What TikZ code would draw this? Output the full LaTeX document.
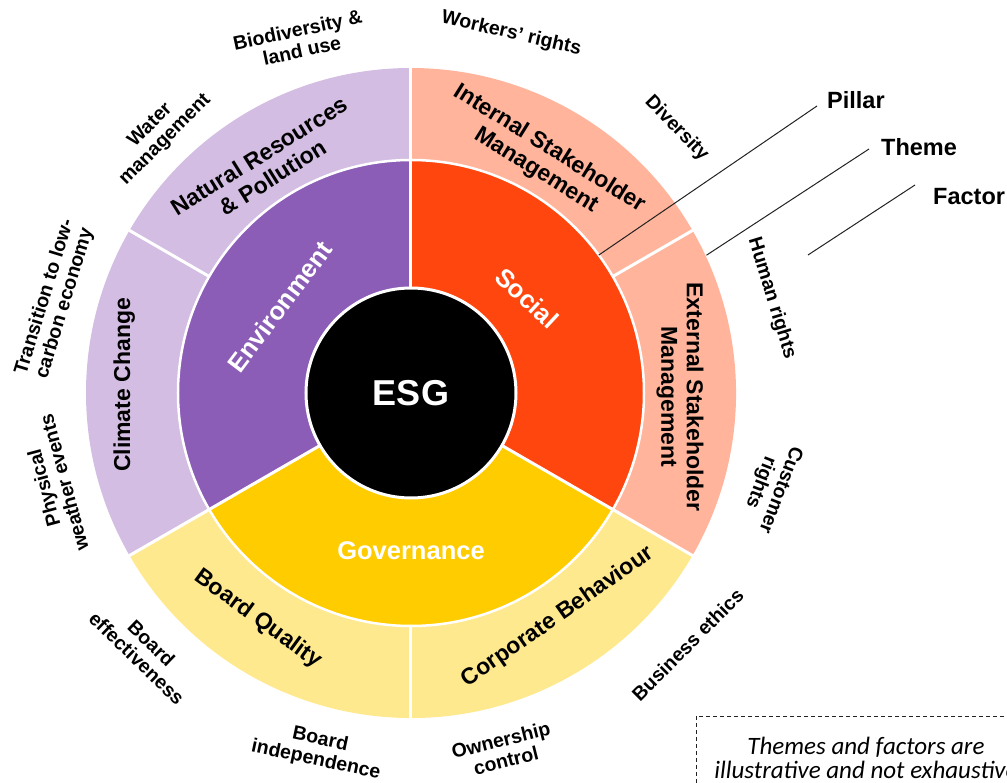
\documentclass[tikz,border=0pt]{standalone}
\usepackage{fontspec}
\setmainfont{Liberation Sans}
\newfontfamily\notefont{Carlito}
\definecolor{envD}{HTML}{8B5DB7}
\definecolor{envL}{HTML}{D3BDE2}
\definecolor{socD}{HTML}{FF460E}
\definecolor{socL}{HTML}{FFB49B}
\definecolor{govD}{HTML}{FFCC00}
\definecolor{govL}{HTML}{FFE98F}
\definecolor{leadc}{HTML}{222222}
\begin{document}
\begin{tikzpicture}[x=1pt,y=1pt,
  sep/.style={white,line width=3pt},
  theme/.style={font=\bfseries\fontsize{23}{25.5}\selectfont,align=center,inner sep=0pt,text=black},
  pil/.style={font=\bfseries\fontsize{25.5}{28}\selectfont,text=white,inner sep=0pt},
  fac/.style={font=\bfseries\fontsize{19.5}{21}\selectfont,align=center,inner sep=0pt,text=black},
  legend/.style={font=\bfseries\fontsize{23.5}{26}\selectfont,anchor=west,inner sep=0pt},
  lead/.style={leadc,line width=1pt}]
\useasboundingbox (-411,-390) rectangle (596,393);
% theme ring
\fill[envL] (0,0) -- (90:325pt) arc[start angle=90,end angle=210,radius=325pt] -- cycle;
\fill[socL] (0,0) -- (-30:325pt) arc[start angle=-30,end angle=90,radius=325pt] -- cycle;
\fill[govL] (0,0) -- (210:325pt) arc[start angle=210,end angle=330,radius=325pt] -- cycle;
\foreach \a in {30,90,150,210,270,330} \draw[sep] (0,0) -- (\a:326pt);
% pillar ring
\fill[envD] (0,0) -- (90:233pt) arc[start angle=90,end angle=210,radius=233pt] -- cycle;
\fill[socD] (0,0) -- (-30:233pt) arc[start angle=-30,end angle=90,radius=233pt] -- cycle;
\fill[govD] (0,0) -- (210:233pt) arc[start angle=210,end angle=330,radius=233pt] -- cycle;
\foreach \a in {90,210,330} \draw[sep] (0,0) -- (\a:233pt);
\draw[sep,line width=2.5pt] (0,0) circle[radius=233pt];
% centre
\node[circle,fill=black,draw=white,line width=3pt,minimum size=210pt,inner sep=0pt,
      text=white,font=\bfseries\fontsize{36}{40}\selectfont] (esg) at (0,0) {ESG};
% pillars
\node[pil,rotate=53] (env) at (146.7:157pt) {Environment};
\node[pil,rotate=-43] (social) at (39.3:150pt) {Social};
\node[pil] (gov) at (0,-158) {Governance};
% themes
\node[theme,rotate=32] (natres) at (122.6:269pt) {Natural Resources\\\& Pollution};
\node[theme,rotate=-32] (internal) at (60.5:268pt) {Internal Stakeholder\\Management};
\node[theme,rotate=-90] (external) at (-0.85:269pt) {External Stakeholder\\Management};
\node[theme,rotate=90] (climate) at (178.4:287pt) {Climate Change};
\node[theme,rotate=-36] (boardq) at (235.9:273pt) {Board Quality};
\node[theme,rotate=35] (corp) at (-56.7:268pt) {Corporate Behaviour};
% factors
\node[fac,rotate=12] (bio) at (107.5:370pt) {Biodiversity \&\\land use};
\node[fac,rotate=-13] (workers) at (74.4:373pt) {Workers’ rights};
\node[fac,rotate=45] (water) at (134.2:363pt) {Water\\management};
\node[fac,rotate=-46] (diversity) at (44.9:375pt) {Diversity};
\node[fac,rotate=-73] (human) at (14.7:373pt) {Human rights};
\node[fac,rotate=-111] (customer) at (-14.5:371pt) {Customer\\rights};
\node[fac,rotate=45] (business) at (-42.3:374pt) {Business ethics};
\node[fac,rotate=14] (ownership) at (-75.5:369pt) {Ownership\\control};
\node[fac,rotate=-12] (boardind) at (-104.6:369pt) {Board\\independence};
\node[fac,rotate=-44] (boardeff) at (224:371pt) {Board\\effectiveness};
\node[fac,rotate=73] (transition) at (165.4:368pt) {Transition to low-\\carbon economy};
\node[fac,rotate=105] (physical) at (194.5:369pt) {Physical\\weather events};
% legend
\node[legend] (pillar) at (416,293) {Pillar};
\node[legend] (theme) at (470,246) {Theme};
\node[legend] (factor) at (522,196) {Factor};
\coordinate (pillarStart) at (406,287);
\coordinate (themeStart) at (458,244);
\coordinate (factorStart) at (504,208);
\coordinate (pillarEnd) at (36.3:233pt);
\coordinate (themeEnd) at (25:326pt);
\coordinate (factorEnd) at (397,138);
\draw[lead] (pillarStart) -- (pillarEnd);
\draw[lead] (themeStart) -- (themeEnd);
\draw[lead] (factorStart) -- (factorEnd);
% note
\draw[leadc,dashed,line width=0.9pt,dash pattern=on 4pt off 3pt] (285,-323) rectangle (640,-430);
\node[font=\notefont\itshape\fontsize{25}{24.5}\selectfont,align=center,inner sep=0pt] (note) at (455,-365)
  {Themes and factors are\\illustrative and not exhaustive};
\end{tikzpicture}
\end{document}
